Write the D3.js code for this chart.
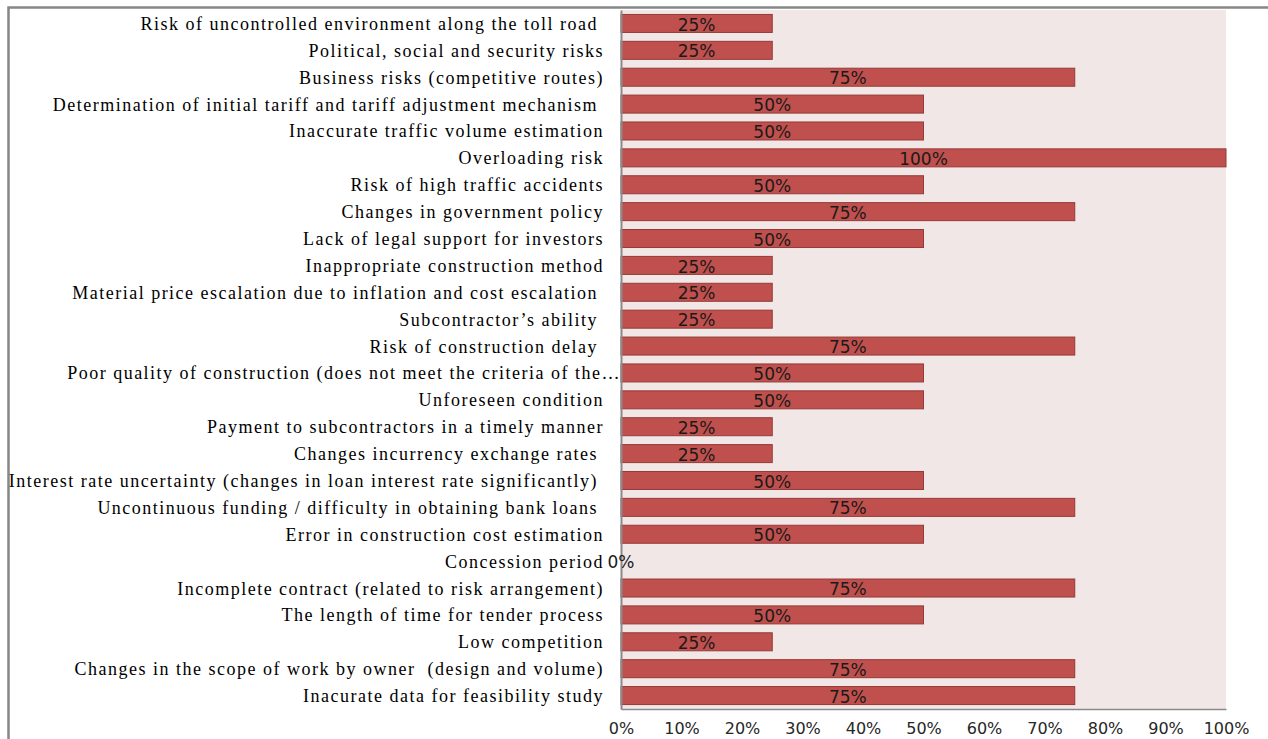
<!DOCTYPE html>
<html>
<head>
<meta charset="utf-8">
<script src="https://cdn.jsdelivr.net/npm/d3@7"></script>
<style>
  html, body { margin: 0; padding: 0; background: #ffffff; }
  svg { display: block; }
</style>
</head>
<body>
<svg id="chart" width="1268" height="739"></svg>
<script>
const categories = [
  "Risk of uncontrolled environment along the toll road ",
  "Political, social and security risks",
  "Business risks (competitive routes)",
  "Determination of initial tariff and tariff adjustment mechanism ",
  "Inaccurate traffic volume estimation",
  "Overloading risk",
  "Risk of high traffic accidents",
  "Changes in government policy",
  "Lack of legal support for investors",
  "Inappropriate construction method",
  "Material price escalation due to inflation and cost escalation ",
  "Subcontractor’s ability ",
  "Risk of construction delay ",
  "Poor quality of construction (does not meet the criteria of the…",
  "Unforeseen condition",
  "Payment to subcontractors in a timely manner",
  "Changes incurrency exchange rates ",
  "Interest rate uncertainty (changes in loan interest rate significantly) ",
  "Uncontinuous funding / difficulty in obtaining bank loans ",
  "Error in construction cost estimation",
  "Concession period",
  "Incomplete contract (related to risk arrangement)",
  "The length of time for tender process",
  "Low competition",
  "Changes in the scope of work by owner  (design and volume)",
  "Inacurate data for feasibility study"
];
const values = [25, 25, 75, 50, 50, 100, 50, 75, 50, 25, 25, 25, 75, 50, 50, 25, 25, 50, 75, 50, 0, 75, 50, 25, 75, 75];
const tickValues = [0, 10, 20, 30, 40, 50, 60, 70, 80, 90, 100];

const svg = d3.select("#chart");

// outer chart-area border (partly cropped)
svg.append("rect")
  .attr("x", 8.5).attr("y", 7.5)
  .attr("width", 1400).attr("height", 900)
  .attr("fill", "none").attr("stroke", "#878787").attr("stroke-width", 2.5);

const pLeft = 621, pRight = 1226, pTop = 10, pBottom = 709;

const x = d3.scaleLinear().domain([0, 100]).range([pLeft, pRight]);
const y = d3.scaleBand().domain(categories).range([pTop, pBottom]).paddingInner(0.33).paddingOuter(0.165);

// plot background
svg.append("rect")
  .attr("x", pLeft).attr("y", pTop)
  .attr("width", pRight - pLeft).attr("height", pBottom - pTop)
  .attr("fill", "#f2e7e7");

// bars
svg.append("g").selectAll("rect")
  .data(categories)
  .join("rect")
  .attr("x", x(0))
  .attr("y", d => y(d))
  .attr("width", (d, i) => Math.max(0, x(values[i]) - x(0)))
  .attr("height", y.bandwidth())
  .attr("fill", "#c0504d")
  .attr("stroke", (d, i) => values[i] > 0 ? "#943a37" : "none")
  .attr("stroke-width", 1);

// category axis (left)
const yAxis = d3.axisLeft(y).tickSize(0).tickPadding(18);
const gy = svg.append("g").attr("transform", `translate(${pLeft},0)`).call(yAxis);
gy.select(".domain").attr("stroke", "#8a8a8a").attr("stroke-width", 2);
gy.selectAll("text")
  .style("font-family", "'Liberation Serif', 'Times New Roman', serif")
  .style("font-size", "18px")
  .style("letter-spacing", "1.5px")
  .style("white-space", "pre")
  .attr("fill", "#000")
  .attr("dy", "0.36em")
  .attr("x", d => d.endsWith("…") ? 0 : -17);

// value axis (bottom)
const xAxis = d3.axisBottom(x).tickValues(tickValues).tickSize(0).tickPadding(14)
  .tickFormat(d => d + "%");
const gx = svg.append("g").attr("transform", `translate(0,${pBottom})`).call(xAxis);
gx.select(".domain").attr("stroke", "#8a8a8a").attr("stroke-width", 1.5);
gx.selectAll("text")
  .style("font-family", "'DejaVu Sans', sans-serif")
  .style("font-size", "16px")
  .attr("fill", "#262626");

// data labels
svg.append("g").selectAll("text")
  .data(categories)
  .join("text")
  .attr("x", (d, i) => (x(0) + x(values[i])) / 2)
  .attr("y", d => y(d) + y.bandwidth() / 2 + 1)
  .attr("dy", "0.36em")
  .attr("text-anchor", "middle")
  .style("font-family", "'DejaVu Sans', sans-serif")
  .style("font-size", "17px")
  .attr("fill", "#1a1a1a")
  .text((d, i) => values[i] + "%");
</script>
</body>
</html>
